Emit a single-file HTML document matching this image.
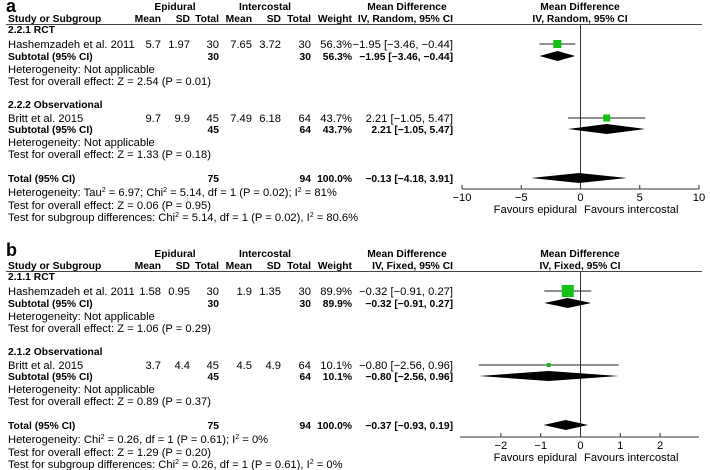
<!DOCTYPE html>
<html><head><meta charset="utf-8"><style>
html,body{margin:0;padding:0;background:#fff;}
svg{display:block;font-family:"Liberation Sans",sans-serif;font-size:11.2px;}
</style></head><body>
<svg id="chart" width="710" height="470" viewBox="0 0 710 470" xmlns="http://www.w3.org/2000/svg"></svg>
<script>
// ---- data ----
const aStudies = ["Hashemzadeh et al. 2011","Britt et al. 2015"];
const aMD = [-1.95, 2.21];
const aLo = [-3.46, -1.05];
const aHi = [-0.44, 5.47];
const aWeight = [56.3, 43.7];
const aTotalMD = -0.13, aTotalLo = -4.18, aTotalHi = 3.91;
const aTicks = [-10,-5,0,5,10];
const bStudies = ["Hashemzadeh et al. 2011","Britt et al. 2015"];
const bMD = [-0.32, -0.80];
const bLo = [-0.91, -2.56];
const bHi = [0.27, 0.96];
const bWeight = [89.9, 10.1];
const bTotalMD = -0.37, bTotalLo = -0.93, bTotalHi = 0.19;
const bTicks = [-2,-1,0,1,2];

const svg = document.getElementById('chart');
const NS = 'http://www.w3.org/2000/svg';
function el(tag, attrs, name, txt){
  const e = document.createElementNS(NS, tag);
  for (const k in attrs) e.setAttribute(k, attrs[k]);
  
  
  if (txt !== undefined) e.textContent = txt;
  svg.appendChild(e); return e;
}
function t(x,y,s,name,anchor,bold){
  const a = {x:x,y:y};
  if (anchor) a['text-anchor'] = anchor;
  if (bold) { a['font-weight'] = 'bold'; a['font-size'] = '10.3'; }
  return el('text', a, name, s);
}
function sup(x,y,parts,name){
  const e = el('text',{x:x,y:y},name);
  parts.forEach(p=>{
    const ts = document.createElementNS(NS,'tspan');
    if (p[1]) { ts.setAttribute('dy','-4'); ts.setAttribute('font-size','7'); }
    else if (p[2]) { ts.setAttribute('dy','4'); }
    ts.textContent = p[0]; e.appendChild(ts);
  });
}

function panel(o){
  const Y = o.y0;
  t(6, Y+o.ly, o.letter, 'panel-label-'+o.letter, null, true).setAttribute('font-size','18');
  t(175, Y+10, 'Epidural', 'epidural-header', 'middle', true);
  t(265, Y+10, 'Intercostal', 'intercostal-header', 'middle', true);
  t(407, Y+10, 'Mean Difference', 'md-header', 'middle', true);
  t(580, Y+10, 'Mean Difference', 'plot-header', 'middle', true);
  t(8, Y+22, 'Study or Subgroup', 'study-header', null, true);
  [['Mean',161],['SD',190],['Total',219],['Mean',252],['SD',281],['Total',311],['Weight',352],[o.method,453]].forEach((h,i)=>
    t(h[1], Y+22, h[0], 'col-header-'+i, 'end', true));
  t(580, Y+22, o.method, 'plot-method-header', 'middle', true);
  el('line',{x1:6,y1:Y+24.5,x2:702,y2:Y+24.5,stroke:'#444','stroke-width':1},'header-rule');

  const x = v => o.zx + v*o.ppu;
  const rowsY = [Y+44, Y+118];
  const subY = [Y+56, Y+129];
  const hdrY = [Y+29, Y+104];
  el('line',{x1:x(0),y1:Y+24.5,x2:x(0),y2:o.axisY,stroke:'#333','stroke-width':1},'zero-line');
  for (let i=0;i<2;i++){
    const d = o.groups[i];
    t(8, hdrY[i]+4, d.title, 'subgroup-title-'+(i+1), null, true);
    t(8, rowsY[i]+4, o.studies[i], 'study-name-'+(i+1));
    t(161, rowsY[i]+4, d.m1, 'mean-epidural-'+(i+1), 'end');
    t(190, rowsY[i]+4, d.s1, 'sd-epidural-'+(i+1), 'end');
    t(219, rowsY[i]+4, d.n1, 'n-epidural-'+(i+1), 'end');
    t(252, rowsY[i]+4, d.m2, 'mean-intercostal-'+(i+1), 'end');
    t(281, rowsY[i]+4, d.s2, 'sd-intercostal-'+(i+1), 'end');
    t(311, rowsY[i]+4, d.n2, 'n-intercostal-'+(i+1), 'end');
    t(352, rowsY[i]+4, o.weight[i].toFixed(1)+'%', 'weight-'+(i+1), 'end');
    const ci = (o.md[i].toFixed(2)+' ['+o.lo[i].toFixed(2)+', '+o.hi[i].toFixed(2)+']').replace(/-/g,'\u2212');
    t(453, rowsY[i]+4, ci, 'ci-'+(i+1), 'end');
    t(8, subY[i]+4, 'Subtotal (95% CI)', 'subtotal-label-'+(i+1), null, true);
    t(219, subY[i]+4, d.n1, 'subtotal-n1-'+(i+1), 'end', true);
    t(311, subY[i]+4, d.n2, 'subtotal-n2-'+(i+1), 'end', true);
    t(352, subY[i]+4, o.weight[i].toFixed(1)+'%', 'subtotal-weight-'+(i+1), 'end', true);
    t(453, subY[i]+4, ci, 'subtotal-ci-'+(i+1), 'end', true);
    t(8, subY[i]+17, 'Heterogeneity: Not applicable', 'heterogeneity-'+(i+1));
    t(8, subY[i]+29, d.z, 'overall-effect-'+(i+1));
    el('line',{x1:x(o.lo[i]),y1:rowsY[i],x2:x(o.hi[i]),y2:rowsY[i],stroke:'#222','stroke-width':1},'ci-line-'+(i+1));
    const s = Math.max(2, Math.sqrt(o.weight[i])*o.sq);
    el('rect',{x:x(o.md[i])-s/2,y:rowsY[i]-s/2,width:s,height:s,fill:'#14c014'},'effect-square-'+(i+1));
    el('polygon',{points:`${x(o.lo[i])},${subY[i]} ${x(o.md[i])},${subY[i]-5} ${x(o.hi[i])},${subY[i]} ${x(o.md[i])},${subY[i]+5}`,fill:'#000'},'subtotal-diamond-'+(i+1));
  }
  const TY = Y+178;
  t(8, TY+4, 'Total (95% CI)', 'total-label', null, true);
  t(219, TY+4, '75', 'total-n1', 'end', true);
  t(311, TY+4, '94', 'total-n2', 'end', true);
  t(352, TY+4, '100.0%', 'total-weight', 'end', true);
  t(453, TY+4, (o.tmd.toFixed(2)+' ['+o.tlo.toFixed(2)+', '+o.thi.toFixed(2)+']').replace(/-/g,'\u2212'), 'total-ci', 'end', true);
  el('polygon',{points:`${x(o.tlo)},${TY} ${x(o.tmd)},${TY-5} ${x(o.thi)},${TY} ${x(o.tmd)},${TY+5}`,fill:'#000'},'total-diamond');
  sup(8, TY+18, o.het, 'total-heterogeneity');
  t(8, TY+31, o.overall, 'total-overall-effect');
  sup(8, TY+43, o.subdiff, 'subgroup-differences');
  el('line',{x1:o.ax0,y1:o.axisY,x2:o.ax1,y2:o.axisY,stroke:'#333','stroke-width':1},'x-axis');
  o.ticks.forEach(v=>{
    el('line',{x1:x(v),y1:o.axisY-4,x2:x(v),y2:o.axisY,stroke:'#333','stroke-width':1},'x-tick');
    t(x(v), o.axisY+12, String(v).replace('-','\u2212'), 'x-tick-label', 'middle');
  });
  t(577, o.axisY+24, 'Favours epidural', 'favours-epidural', 'end');
  t(584, o.axisY+24, 'Favours intercostal', 'favours-intercostal', 'start');
}

panel({letter:'a', y0:0, ly:12, method:'IV, Random, 95% CI', zx:580.5, ppu:11.85, axisY:189, ax0:462, ax1:699,
  studies:aStudies, md:aMD, lo:aLo, hi:aHi, weight:aWeight, tmd:aTotalMD, tlo:aTotalLo, thi:aTotalHi, ticks:aTicks, sq:1.07,
  groups:[{title:'2.2.1 RCT',m1:'5.7',s1:'1.97',n1:'30',m2:'7.65',s2:'3.72',n2:'30',z:'Test for overall effect: Z = 2.54 (P = 0.01)'},
          {title:'2.2.2 Observational',m1:'9.7',s1:'9.9',n1:'45',m2:'7.49',s2:'6.18',n2:'64',z:'Test for overall effect: Z = 1.33 (P = 0.18)'}],
  het:[['Heterogeneity: Tau'],['2',1],[' = 6.97; Chi',0,1],['2',1],[' = 5.14, df = 1 (P = 0.02); I',0,1],['2',1],[' = 81%',0,1]],
  overall:'Test for overall effect: Z = 0.06 (P = 0.95)',
  subdiff:[['Test for subgroup differences: Chi'],['2',1],[' = 5.14, df = 1 (P = 0.02), I',0,1],['2',1],[' = 80.6%',0,1]]});

panel({letter:'b', y0:247, ly:9, method:'IV, Fixed, 95% CI', zx:580.5, ppu:39.8, axisY:437, ax0:460, ax1:699,
  studies:bStudies, md:bMD, lo:bLo, hi:bHi, weight:bWeight, tmd:bTotalMD, tlo:bTotalLo, thi:bTotalHi, ticks:bTicks, sq:1.27,
  groups:[{title:'2.1.1 RCT',m1:'1.58',s1:'0.95',n1:'30',m2:'1.9',s2:'1.35',n2:'30',z:'Test for overall effect: Z = 1.06 (P = 0.29)'},
          {title:'2.1.2 Observational',m1:'3.7',s1:'4.4',n1:'45',m2:'4.5',s2:'4.9',n2:'64',z:'Test for overall effect: Z = 0.89 (P = 0.37)'}],
  het:[['Heterogeneity: Chi'],['2',1],[' = 0.26, df = 1 (P = 0.61); I',0,1],['2',1],[' = 0%',0,1]],
  overall:'Test for overall effect: Z = 1.29 (P = 0.20)',
  subdiff:[['Test for subgroup differences: Chi'],['2',1],[' = 0.26, df = 1 (P = 0.61), I',0,1],['2',1],[' = 0%',0,1]]});
</script>
</body></html>
